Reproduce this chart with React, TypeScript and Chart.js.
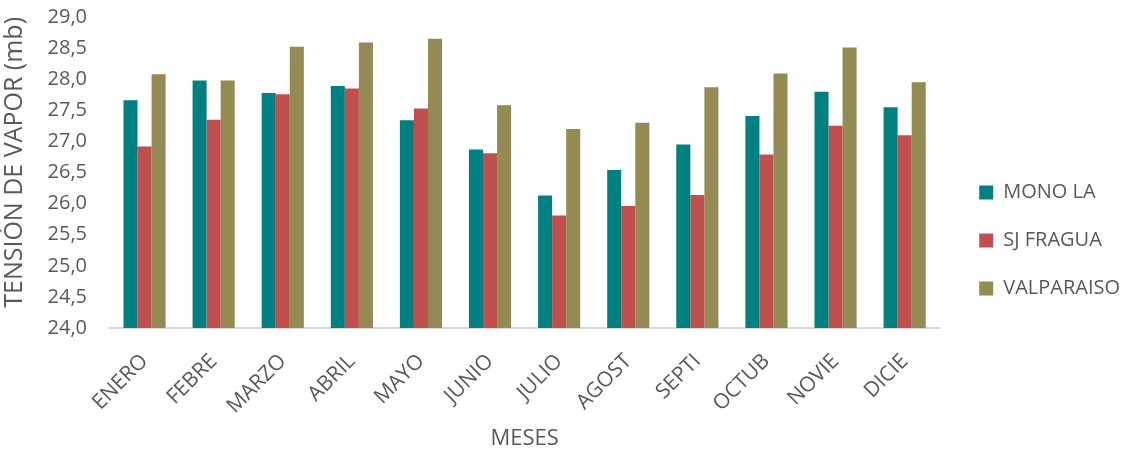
import React, { useEffect, useRef } from "react";
import { Chart, registerables } from "chart.js";

Chart.register(...registerables);

const months = ["ENERO", "FEBRE", "MARZO", "ABRIL", "MAYO", "JUNIO", "JULIO", "AGOST", "SEPTI", "OCTUB", "NOVIE", "DICIE"];
const monoLa = [27.66, 27.98, 27.78, 27.89, 27.34, 26.87, 26.13, 26.54, 26.95, 27.41, 27.8, 27.55];
const sjFragua = [26.92, 27.35, 27.76, 27.85, 27.53, 26.81, 25.81, 25.96, 26.14, 26.79, 27.25, 27.1];
const valparaiso = [28.08, 27.98, 28.52, 28.59, 28.65, 27.58, 27.2, 27.3, 27.87, 28.09, 28.51, 27.95];

const FONT = "'Open Sans', sans-serif";
const TEXT = "#595959";

// Nudges the right-hand legend column a little away from the plot area.
const legendOffset = {
  id: "legendOffset",
  afterLayout(chart: any) {
    const lg = chart.legend;
    if (lg) {
      lg.left += 12;
      lg.right += 12;
      lg.top += 6;
      lg.bottom += 6;
    }
  },
};

export default function App() {
  const ref = useRef<HTMLCanvasElement>(null);

  useEffect(() => {
    document.body.style.margin = "0";
    const canvas = ref.current;
    if (!canvas) return;
    const chart = new Chart(canvas, {
      type: "bar",
      data: {
        labels: months,
        datasets: [
          { label: "MONO LA", data: monoLa, backgroundColor: "#008080" },
          { label: "SJ FRAGUA", data: sjFragua, backgroundColor: "#C0504D" },
          { label: "VALPARAISO", data: valparaiso, backgroundColor: "#948A54" },
        ],
      },
      plugins: [legendOffset],
      options: {
        responsive: false,
        animation: false,
        layout: { padding: { top: 17, left: 0, right: 9, bottom: 2 } },
        datasets: {
          bar: { categoryPercentage: 0.61, barPercentage: 1 },
        },
        plugins: {
          tooltip: { enabled: false },
          legend: {
            position: "right",
            align: "center",
            labels: {
              color: TEXT,
              font: { family: FONT, size: 20 },
              boxWidth: 14,
              boxHeight: 14,
              padding: 28,
            },
          },
        },
        scales: {
          x: {
            grid: { display: false },
            border: { display: true, color: "#D9D9D9", width: 2 },
            ticks: {
              color: TEXT,
              font: { family: FONT, size: 21 },
              minRotation: 45,
              maxRotation: 45,
              padding: 13,
            },
            title: {
              display: true,
              text: "MESES",
              color: TEXT,
              font: { family: FONT, size: 22 },
              padding: { top: 0, bottom: 0 },
            },
            afterFit: (s: any) => {
              s.height = 124;
            },
          },
          y: {
            min: 24,
            max: 29,
            grid: { display: false },
            border: { display: false },
            ticks: {
              stepSize: 0.5,
              color: TEXT,
              font: { family: FONT, size: 20 },
              padding: 15,
              callback: (v: any) => Number(v).toFixed(1).replace(".", ","),
            },
            title: {
              display: true,
              text: "TENSIÓN DE VAPOR (mb)",
              color: TEXT,
              align: "end",
              font: { family: FONT, size: 25 },
              padding: { top: 0, bottom: 2 },
            },
            afterFit: (s: any) => {
              s.width = 110;
              s.paddingTop = 0;
              s.paddingBottom = 0;
            },
          },
        },
      },
    });
    return () => chart.destroy();
  }, []);

  return (
    <div style={{ width: 1127, height: 454, background: "#fff" }}>
      <canvas ref={ref} width={1127} height={454} />
    </div>
  );
}
